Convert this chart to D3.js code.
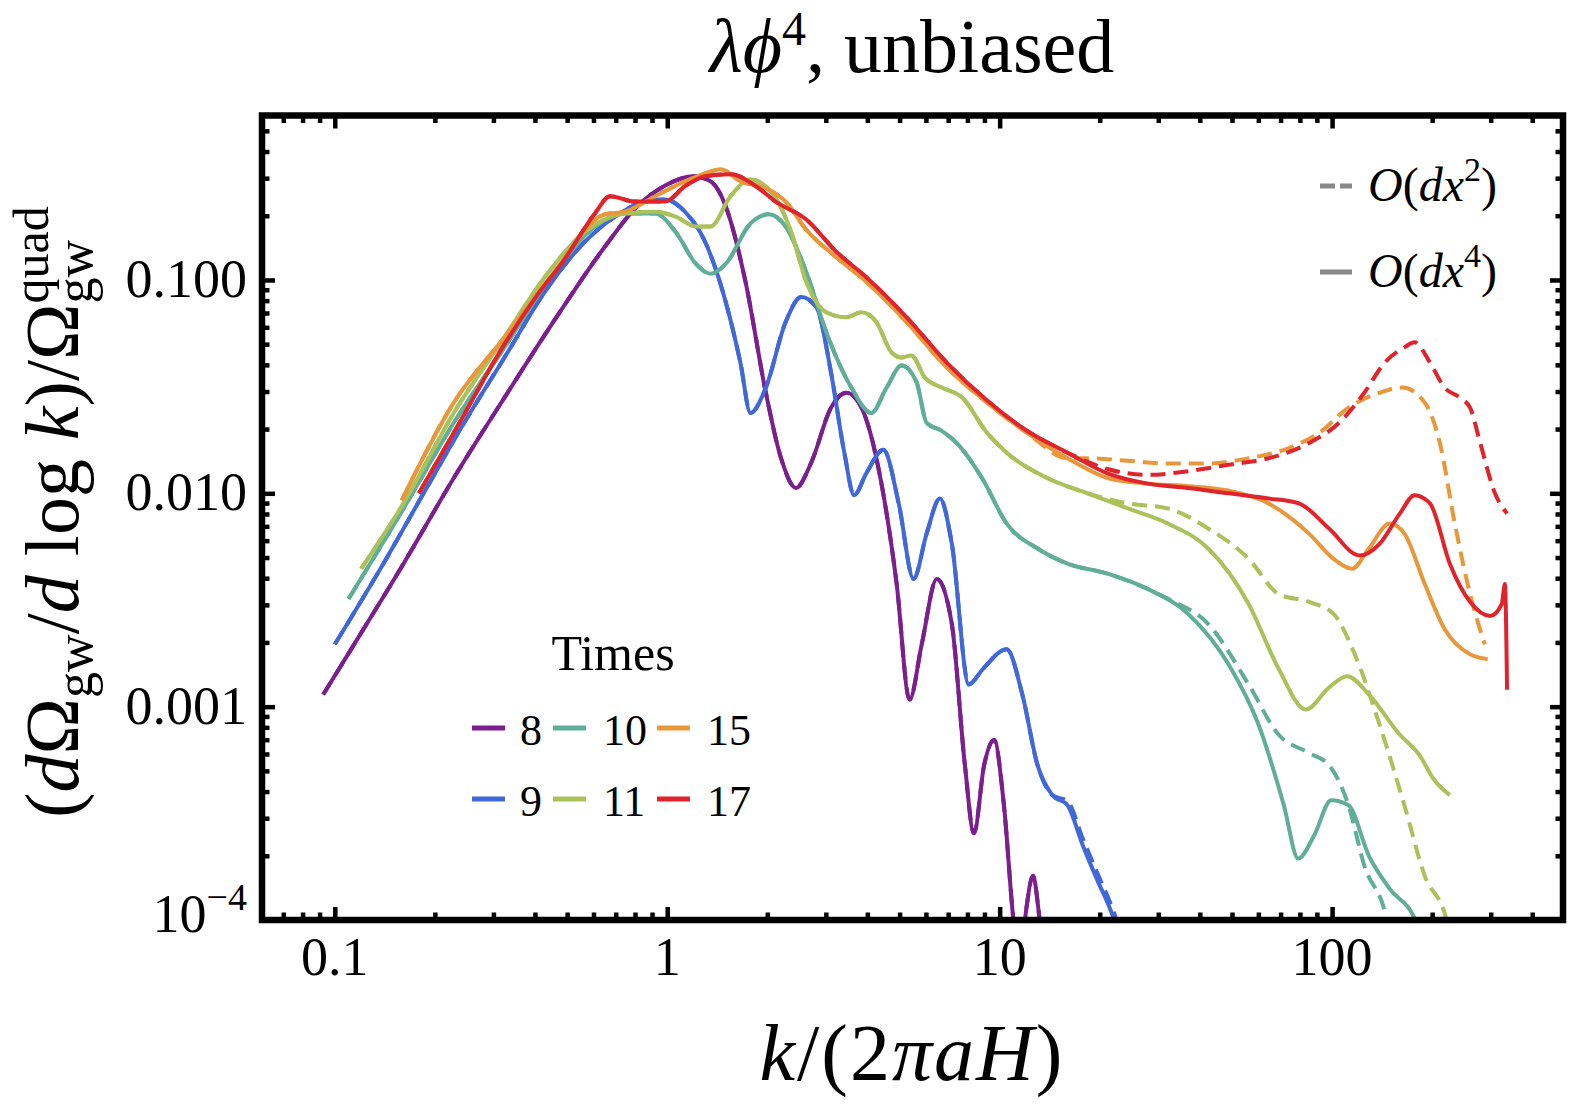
<!DOCTYPE html>
<html><head><meta charset="utf-8">
<script src="https://cdn.jsdelivr.net/npm/d3@7"></script>
<style>
html,body{margin:0;padding:0;background:#fff;}
text{font-family:"Liberation Serif","DejaVu Serif",serif;fill:#000;}
</style></head>
<body><svg id="c" width="1578" height="1113"></svg>
<script>
// ---------------- DATA ----------------
const times = ["8","9","10","11","15","17"];
const colors = {"8":"#7b1f8e","9":"#4068d8","10":"#60ae98","11":"#abc15a","15":"#e8973a","17":"#e0242b"};
const xTickLabels = ["0.1","1","10","100"];
const xTickValues = [0.1,1,10,100];
const yTickValues = [1e-4,0.001,0.01,0.1];
const yTickLabels = ["10^-4","0.001","0.010","0.100"];

// O(dx^4) curves [k, Omega]
const s8 = [[0.0923,0.00114],[0.122,0.00231],[0.161,0.00468],[0.228,0.0118],[0.324,0.0281],[0.458,0.0648],[0.649,0.143],[0.800,0.216],[0.986,0.277],[1.20,0.306],[1.35,0.290],[1.50,0.221],[1.72,0.098],[1.98,0.0296],[2.20,0.0146],[2.44,0.0106],[2.71,0.0139],[3.11,0.0252],[3.46,0.0296],[3.84,0.0252],[4.41,0.0111],[4.90,0.00376],[5.36,0.00108],[5.83,0.00196],[6.47,0.00397],[7.18,0.00244],[7.86,0.000532],[8.37,0.000255],[8.98,0.000532],[9.62,0.000698],[10.3,0.000345],[11.0,0.0001],[11.5,0.00006],[12.0,0.00011],[12.6,0.000161],[13.1,0.00011],[13.6,0.00006]];
const s9 = [[0.100,0.00196],[0.140,0.00468],[0.185,0.0100],[0.245,0.0214],[0.324,0.0433],[0.428,0.0878],[0.565,0.151],[0.697,0.198],[0.858,0.233],[0.986,0.238],[1.13,0.209],[1.30,0.151],[1.50,0.0787],[1.66,0.0410],[1.78,0.0238],[1.98,0.0313],[2.27,0.0634],[2.53,0.0832],[2.81,0.0746],[3.11,0.0368],[3.41,0.0155],[3.65,0.0098],[3.97,0.0124],[4.47,0.0160],[4.97,0.00897],[5.51,0.00397],[6.03,0.00647],[6.61,0.00946],[7.18,0.00580],[8.08,0.00127],[8.9,0.00150],[10.5,0.00186],[11.7,0.00114],[13.0,0.000532],[14.4,0.000385],[16.0,0.000345],[17.8,0.000223],[19.7,0.000153],[21.9,0.000104],[23,0.00008]];
const s10 = [[0.110,0.00320],[0.161,0.00849],[0.228,0.0214],[0.324,0.0483],[0.458,0.109],[0.606,0.178],[0.746,0.205],[0.920,0.205],[1.06,0.168],[1.22,0.119],[1.35,0.107],[1.50,0.119],[1.78,0.184],[2.02,0.203],[2.27,0.178],[2.62,0.109],[3.01,0.0569],[3.58,0.0313],[4.11,0.0238],[4.57,0.0313],[5.07,0.0397],[5.63,0.0330],[6.03,0.0214],[6.70,0.0196],[7.43,0.0172],[8.85,0.0118],[10.5,0.00721],[13.0,0.00551],[16.0,0.00468],[21.1,0.00420],[27.9,0.00356],[36.9,0.00272],[48.8,0.00158],[60.1,0.000822],[71.6,0.000345],[79.1,0.000194],[88.3,0.000249],[99.4,0.000364],[112,0.000345],[129,0.000200],[149,0.000140],[178,0.0000999],[185,0.00008]];
const s11 = [[0.120,0.00443],[0.161,0.00897],[0.228,0.0238],[0.324,0.0539],[0.428,0.103],[0.565,0.168],[0.746,0.205],[0.920,0.209],[1.06,0.198],[1.22,0.178],[1.35,0.178],[1.55,0.247],[1.78,0.296],[2.05,0.260],[2.36,0.168],[2.62,0.098],[3.01,0.0706],[3.46,0.0668],[3.84,0.0706],[4.26,0.0634],[4.73,0.0457],[5.07,0.0433],[5.43,0.0443],[5.96,0.0348],[6.70,0.0313],[7.71,0.0281],[9.17,0.0192],[10.5,0.0155],[13.9,0.0118],[18.4,0.0100],[24.3,0.00849],[32.1,0.00721],[42.4,0.00551],[56.1,0.00303],[69.1,0.00150],[83.4,0.000969],[97.9,0.00123],[111,0.00139],[129,0.00114],[160,0.000738],[183,0.000594],[203,0.000453],[226,0.000385]];
const s15 = [[0.159,0.00927],[0.228,0.0266],[0.324,0.0539],[0.458,0.109],[0.649,0.203],[0.746,0.209],[0.920,0.247],[1.13,0.290],[1.30,0.316],[1.45,0.330],[1.66,0.290],[1.98,0.269],[2.27,0.233],[2.62,0.172],[3.22,0.128],[3.97,0.098],[5.25,0.0634],[6.93,0.0389],[9.17,0.0266],[12.1,0.0192],[16.0,0.0146],[21.1,0.0118],[27.9,0.0111],[36.9,0.0108],[48.8,0.0103],[64.4,0.00897],[85.2,0.00647],[101,0.00493],[115,0.00443],[129,0.00551],[149,0.00721],[165,0.00647],[190,0.00376],[218,0.00231],[260,0.00176],[294,0.00167]];
const s17 = [[0.179,0.0100],[0.228,0.0192],[0.324,0.0500],[0.400,0.0820],[0.491,0.125],[0.606,0.205],[0.673,0.247],[0.800,0.233],[0.986,0.233],[1.13,0.275],[1.30,0.306],[1.55,0.313],[1.85,0.275],[2.12,0.233],[2.62,0.192],[3.22,0.136],[3.97,0.103],[5.25,0.0668],[6.93,0.0410],[9.17,0.0272],[12.1,0.0196],[16.0,0.0155],[21.1,0.0124],[27.9,0.0111],[36.9,0.0106],[48.8,0.0100],[64.4,0.00946],[79.5,0.00897],[97.9,0.00684],[121,0.00511],[139,0.00580],[160,0.00805],[177,0.00980],[197,0.00897],[226,0.00468],[260,0.00310],[299,0.00266],[324,0.00303],[331,0.00376],[336,0.00120]];

// O(dx^2) curves: identical to the O(dx^4) ones below kSplit, then these tails
const kSplit = {"8":100,"9":14,"10":27,"11":20,"15":17,"17":17};
const t8 = [];
const t9 = [[14.4,0.000385],[16.0,0.000360],[17.8,0.000240],[19.7,0.000165],[21.9,0.000112],[23.5,0.00008]];
const t10 = [[27.9,0.00356],[32.1,0.00320],[42.4,0.00244],[56.1,0.00127],[69.1,0.000738],[85.2,0.000607],[97.9,0.000532],[112,0.000345],[125,0.000180],[146,0.0000999],[150,0.00008]];
const t11 = [[24.3,0.00897],[32.1,0.00849],[42.4,0.00684],[56.1,0.00493],[69.1,0.00337],[85.2,0.00310],[101,0.00272],[117,0.00176],[139,0.000822],[165,0.000345],[190,0.000161],[221,0.0000999],[226,0.00008]];
const t15 = [[18.4,0.0146],[24.3,0.0142],[32.1,0.0138],[42.4,0.0138],[56.1,0.0146],[74.1,0.0163],[91.4,0.0192],[112,0.0252],[139,0.0296],[163,0.0313],[190,0.0266],[211,0.0172],[234,0.00721],[260,0.00337],[288,0.00196]];
const t17 = [[21.1,0.0130],[27.9,0.0122],[36.9,0.0127],[48.8,0.0136],[64.4,0.0146],[85.2,0.0172],[105,0.0214],[125,0.0296],[144,0.0410],[165,0.0483],[177,0.0510],[197,0.0410],[218,0.0313],[242,0.0281],[260,0.0252],[279,0.0172],[309,0.0100],[336,0.00805]];

const solid = {"8":s8,"9":s9,"10":s10,"11":s11,"15":s15,"17":s17};
const tails = {"8":t8,"9":t9,"10":t10,"11":t11,"15":t15,"17":t17};

// ---------------- CHART ----------------
const svg = d3.select("#c");
const L=262,R=1563,T=115.5,B=920;
const x = d3.scaleLog().domain([0.0604,495]).range([L,R]);
const y = d3.scaleLog().domain([1e-4,0.59]).range([B,T]);

svg.append("defs").append("clipPath").attr("id","clip")
  .append("rect").attr("x",L).attr("y",T).attr("width",R-L).attr("height",B-T);

const line = d3.line().x(d=>x(d[0])).y(d=>y(d[1])).curve(d3.curveMonotoneX);
const gC = svg.append("g").attr("clip-path","url(#clip)");

times.forEach(t=>{
  const dashed = solid[t].filter(d=>d[0]<kSplit[t]).concat(tails[t]);
  gC.append("path").attr("d",line(dashed)).attr("fill","none")
    .attr("stroke",colors[t]).attr("stroke-width",4).attr("stroke-dasharray","15,8");
});
times.forEach(t=>{
  gC.append("path").attr("d",line(solid[t])).attr("fill","none")
    .attr("stroke",colors[t]).attr("stroke-width",4).attr("stroke-linejoin","round");
});

// ticks via d3 axes
function minorTicks(domain){
  const out=[];
  for(let e=-6;e<=4;e++) for(let m=2;m<=9;m++){const v=m*Math.pow(10,e); if(v>domain[0]&&v<domain[1]) out.push(v);}
  return out;
}
const xMinor = minorTicks(x.domain()), yMinor = minorTicks(y.domain());
function drawAxis(axisFn, scale, vals, size, transform){
  const g = svg.append("g").attr("transform",transform)
    .call(axisFn(scale).tickValues(vals).tickSize(size).tickFormat(""));
  g.select(".domain").remove();
  g.selectAll(".tick line").attr("stroke","#000").attr("stroke-width",4.5);
}
drawAxis(d3.axisBottom, x, xTickValues, -13, `translate(0,${B})`);
drawAxis(d3.axisBottom, x, xMinor, -7.5, `translate(0,${B})`);
drawAxis(d3.axisTop, x, xTickValues, -13, `translate(0,${T})`);
drawAxis(d3.axisTop, x, xMinor, -7.5, `translate(0,${T})`);
drawAxis(d3.axisLeft, y, yTickValues, -13, `translate(${L},0)`);
drawAxis(d3.axisLeft, y, yMinor, -7.5, `translate(${L},0)`);
drawAxis(d3.axisRight, y, yTickValues, -13, `translate(${R},0)`);
drawAxis(d3.axisRight, y, yMinor, -7.5, `translate(${R},0)`);

svg.append("rect").attr("x",L).attr("y",T).attr("width",R-L).attr("height",B-T)
  .attr("fill","none").attr("stroke","#000").attr("stroke-width",6.5);

// tick labels
xTickValues.forEach((v,i)=>{
  svg.append("text").attr("x",x(v)).attr("y",975).attr("text-anchor","middle")
    .attr("font-size",54).text(xTickLabels[i]);
});
yTickValues.forEach((v,i)=>{
  const lab = yTickLabels[i];
  const tx = svg.append("text").attr("x",247).attr("y",y(v)+17).attr("text-anchor","end").attr("font-size",54);
  if(lab.indexOf("^")>=0){
    const [b,e]=lab.split("^");
    tx.attr("y",y(v)+12);
    tx.append("tspan").text(b);
    tx.append("tspan").attr("font-size",38).attr("dy",-22).text(e.replace("-","\u2212"));
  } else tx.text(lab);
});

// rich text helper
function rich(sel, parts){
  let prevLen=0;
  parts.forEach(p=>{
    const ts = sel.append("tspan").text(p.t);
    if(p.it) ts.attr("font-style","italic");
    if(p.fs) ts.attr("font-size",p.fs);
    if(p.dy) ts.attr("dy",p.dy);
    if(p.dx!=null) ts.attr("dx",p.dx);
    if(p.back) ts.attr("dx",-prevLen);
    prevLen = ts.node().getComputedTextLength();
  });
}

// title
rich(svg.append("text").attr("x",912).attr("y",72).attr("text-anchor","middle").attr("font-size",76),
  [{t:"λϕ",it:true},{t:"4",fs:48,dy:-27},{t:", unbiased",dy:27}]);

// x label
rich(svg.append("text").attr("x",912).attr("y",1080).attr("text-anchor","middle").attr("font-size",80).attr("letter-spacing",2),
  [{t:"k",it:true},{t:"/(2"},{t:"πaH",it:true},{t:")"}]);

// y label
rich(svg.append("text").attr("transform","translate(78,512) rotate(-90)").attr("text-anchor","middle").attr("font-size",76),
  [{t:"("},{t:"d",it:true},{t:"Ω"},{t:"gw",fs:52,dy:14},{t:"/",dy:-14},{t:"d",it:true},{t:" log "},{t:"k",it:true},{t:")/Ω"},
   {t:"gw",fs:52,dy:14},{t:"quad",fs:50,dy:-44,back:true},{t:"",dy:30}]);

// Times legend
svg.append("text").attr("x",613).attr("y",670).attr("text-anchor","middle").attr("font-size",50).text("Times");
const legRows=[["8","10","15"],["9","11","17"]];
const legLineX=[472,553,657], legLabX=[520,603,707], legRowY=[728,799];
legRows.forEach((row,ri)=>row.forEach((t,ci)=>{
  svg.append("line").attr("x1",legLineX[ci]).attr("x2",legLineX[ci]+33).attr("y1",legRowY[ri]).attr("y2",legRowY[ri])
    .attr("stroke",colors[t]).attr("stroke-width",5);
  svg.append("text").attr("x",legLabX[ci]).attr("y",legRowY[ri]+17).attr("font-size",44).text(t);
}));

// order legend
const ordLabels=[["2","15,5"],["4",null]];
ordLabels.forEach((o,i)=>{
  const yy=[186,272][i];
  svg.append("line").attr("x1",1320).attr("x2",1352).attr("y1",yy).attr("y2",yy)
    .attr("stroke","#888").attr("stroke-width",5).attr("stroke-dasharray",o[1]);
  rich(svg.append("text").attr("x",1368).attr("y",yy+15).attr("font-size",48),
    [{t:"O",it:true},{t:"("},{t:"dx",it:true},{t:o[0],fs:34,dy:-20},{t:")",dy:20}]);
});
</script></body></html>
